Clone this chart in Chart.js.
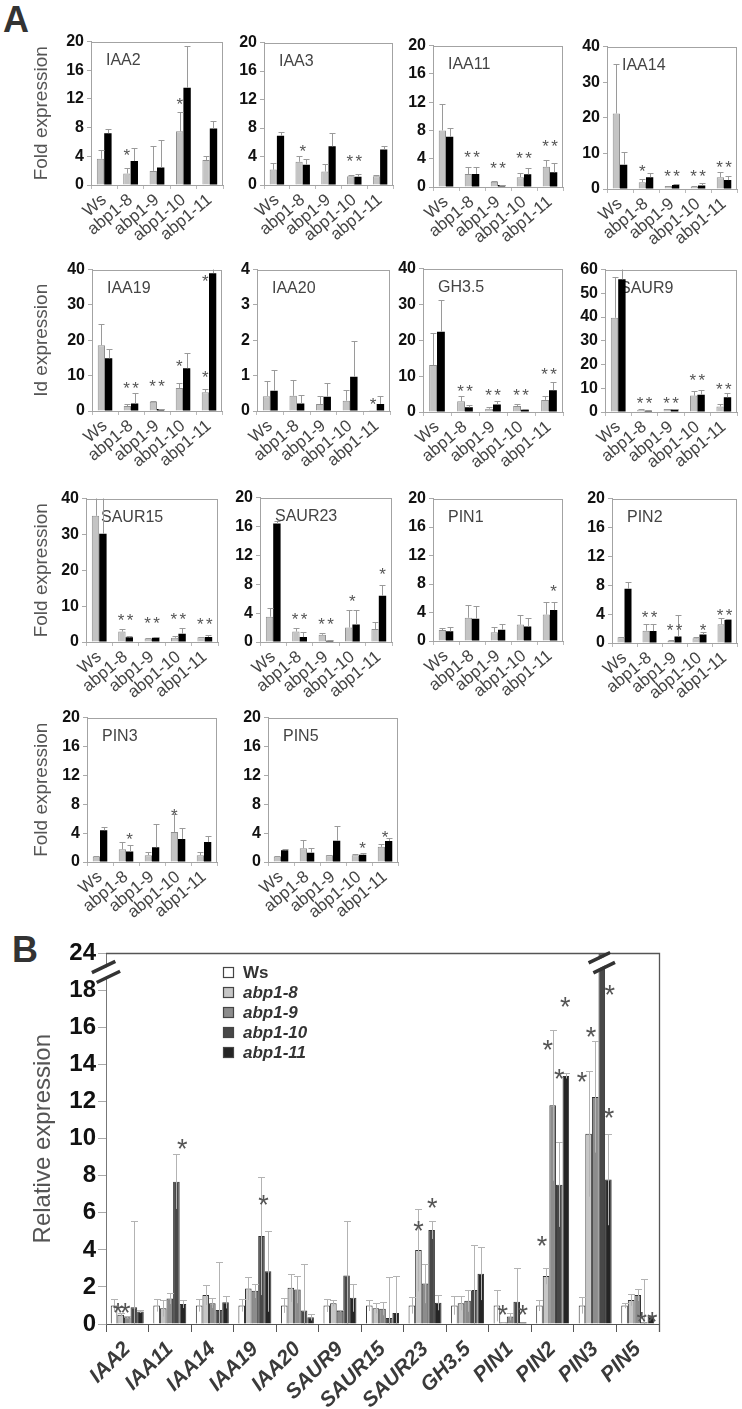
<!DOCTYPE html>
<html>
<head>
<meta charset="utf-8">
<script src="https://cdn.jsdelivr.net/npm/chart.js@4.4.1/dist/chart.umd.min.js"></script>
<style>
  body { margin: 0; background: #fff; width: 742px; height: 1409px; position: relative; overflow: hidden; }
  .letter { position: absolute; font-family: "Liberation Sans", Arial, sans-serif; font-weight: bold; font-size: 36px; line-height: 1; color: #333; }
</style>
</head>
<body>
<div class="letter" style="left:3px;top:2px">A</div>
<div class="letter" style="left:12px;top:932px">B</div>
<script>
// ---------- data: panel A (gray = first series, black = second series) ----------
const genotypes = ['Ws', 'abp1-8', 'abp1-9', 'abp1-10', 'abp1-11'];
const panelGenes = ['IAA2', 'IAA3', 'IAA11', 'IAA14', 'IAA19', 'IAA20', 'GH3.5', 'SAUR9',
                    'SAUR15', 'SAUR23', 'PIN1', 'PIN2', 'PIN3', 'PIN5'];
const panelYMax = [20, 20, 20, 40, 40, 4, 40, 60, 40, 20, 20, 20, 20, 20];
const panelYStep = [4, 4, 4, 10, 10, 1, 10, 10, 10, 4, 4, 4, 4, 4];

const grayVals = [
  [3.66, 1.6, 1.97, 7.5, 3.48],
  [2.16, 3.26, 1.9, 1.24, 1.24],
  [8.0, 1.84, 0.74, 1.38, 2.86],
  [21.2, 1.93, 0.83, 0.64, 3.3],
  [18.6, 1.4, 2.6, 6.5, 5.3],
  [0.42, 0.43, 0.2, 0.29, 0.03],
  [13.1, 3.0, 0.9, 1.64, 3.37],
  [39.7, 0.96, 1.24, 6.9, 2.33],
  [35.2, 2.9, 1.0, 1.2, 1.3],
  [3.5, 1.44, 1.0, 2.0, 1.8],
  [1.54, 3.26, 1.22, 2.3, 3.71],
  [0.8, 1.7, 0.3, 0.67, 2.6],
  [0.77, 1.76, 0.95, 4.16, 0.95],
  [0.77, 1.9, 0.95, 0.95, 2.1]
];
const grayErr = [
  [1.24, 0.8, 3.53, 2.7, 0.5],
  [0.94, 0.84, 1.0, 0.16, 0.2],
  [3.75, 1.02, 0.13, 0.62, 1.01],
  [14.0, 0.92, 0.1, 0.1, 1.6],
  [5.9, 0.7, 0.2, 1.5, 0.8],
  [0.43, 0.45, 0.22, 0.29, 0],
  [8.8, 1.6, 0.6, 0.66, 1.13],
  [17.1, 0.44, 0.2, 2.0, 0.97],
  [8, 0.8, 0.1, 0.5, 0.1],
  [1.2, 0.56, 0.26, 2.4, 1.0],
  [0.22, 1.81, 0.68, 1.4, 1.81],
  [0.05, 1.0, 0.05, 0.1, 0.8],
  [0.05, 1.04, 0.41, 2.49, 0.5],
  [0.09, 1.2, 0.05, 0.18, 0.34]
];
const blackVals = [
  [7.23, 3.34, 2.43, 13.55, 7.87],
  [6.9, 2.85, 5.43, 1.15, 5.0],
  [7.1, 1.84, 0.28, 1.8, 2.07],
  [6.8, 3.3, 1.1, 1.0, 2.5],
  [14.9, 2.1, 0.55, 12.1, 39.0],
  [0.57, 0.21, 0.4, 0.97, 0.2],
  [22.4, 1.3, 2.1, 0.64, 6.1],
  [55.9, 0.55, 1.1, 7.3, 6.2],
  [30.2, 1.3, 1.2, 2.3, 1.4],
  [16.4, 0.68, 0.18, 2.43, 6.4],
  [1.36, 3.12, 1.58, 2.04, 4.34],
  [7.5, 1.65, 0.9, 1.16, 3.2],
  [4.4, 1.45, 2.04, 3.17, 2.76],
  [1.63, 1.27, 2.94, 1.0, 2.9]
];
const blackErr = [
  [0.55, 1.83, 3.87, 5.9, 1.1],
  [0.55, 0.83, 1.87, 0.45, 0.5],
  [1.3, 1.02, 0.05, 0.9, 1.39],
  [3.6, 1.3, 0.2, 0.75, 1.2],
  [2.7, 3.1, 0.1, 4.3, 1.6],
  [0.59, 0.24, 0.4, 1.01, 0.22],
  [8.8, 0.7, 1.0, 0.26, 2.3],
  [5.1, 0.1, 0.1, 2.0, 1.6],
  [12, 0.4, 0.1, 1.6, 0.6],
  [0.4, 0.67, 0.05, 1.97, 1.5],
  [0.54, 1.81, 0.77, 1.13, 1.13],
  [1.0, 1.05, 3.0, 0.34, 0.1],
  [0.5, 0.9, 3.16, 1.58, 0.81],
  [0.23, 0.63, 1.99, 0.22, 0.36]
];
// significance marks: [genotype index, over (-1 gray, 0 both, 1 black), y value, text]
const panelStars = [
  [[1, -1, 4.7, '*'], [3, -1, 11.8, '*']],
  [[1, 0, 5.3, '*'], [3, 0, 3.9, '**']],
  [[1, 0, 4.8, '**'], [2, 0, 3.2, '**'], [3, 0, 4.6, '**'], [4, 0, 6.4, '**']],
  [[1, -1, 6.3, '*'], [2, 0, 4.9, '**'], [3, 0, 4.9, '**'], [4, 0, 7.4, '**']],
  [[1, 0, 7.7, '**'], [2, 0, 8.1, '**'], [3, -1, 13.9, '*'], [4, -1, 10.7, '*'], [4, -1, 37.9, '*']],
  [[4, -1, 0.3, '*']],
  [[1, 0, 7.0, '**'], [2, 0, 5.8, '**'], [3, 0, 5.8, '**'], [4, 0, 11.6, '**']],
  [[1, 0, 5.5, '**'], [2, 0, 5.5, '**'], [3, 0, 15.1, '**'], [4, 0, 11.5, '**']],
  [[1, 0, 7.3, '**'], [2, 0, 6.4, '**'], [3, 0, 7.5, '**'], [4, 0, 6.0, '**']],
  [[1, 0, 3.8, '**'], [2, 0, 3.1, '**'], [3, 0, 6.2, '*'], [4, 1, 9.9, '*']],
  [[4, 1, 7.6, '*']],
  [[1, 0, 4.2, '**'], [2, 0, 2.3, '**'], [3, 1, 2.4, '*'], [4, 0, 4.4, '**']],
  [[1, 1, 3.7, '*'], [3, -1, 7.0, '*']],
  [[3, 1, 2.5, '*'], [4, 0, 4.0, '*']]
];

// ---------- data: panel B ----------
const bGenes = ['IAA2', 'IAA11', 'IAA14', 'IAA19', 'IAA20', 'SAUR9', 'SAUR15', 'SAUR23',
                'GH3.5', 'PIN1', 'PIN2', 'PIN3', 'PIN5'];
const bSeries = ['Ws', 'abp1-8', 'abp1-9', 'abp1-10', 'abp1-11'];
const wsVals    = [1, 1, 1, 1, 1, 1, 1, 1, 1, 1, 1, 1, 1];
const wsErr     = [0.33, 0.33, 0.33, 0.33, 0.4, 0.35, 0.3, 0.44, 0.5, 0.86, 0.3, 0.44, 0.15];
const abp18Vals = [0.5, 0.85, 1.56, 1.91, 1.95, 1.12, 0.85, 3.99, 1.12, 0.1, 2.59, 10.27, 1.29];
const abp18Err  = [0.1, 0.45, 0.53, 0.62, 0.76, 0.17, 0.27, 2.23, 0.38, 0, 0.44, 3.4, 0.31];
const abp19Vals = [0.37, 1.38, 1.12, 1.79, 1.86, 0.71, 0.82, 2.18, 1.26, 0.41, 11.8, 12.25, 1.56];
const abp19Err  = [0.05, 0.3, 0.26, 0.39, 0.74, 0.05, 0.35, 1.06, 0.6, 0.21, 4.07, 3.0, 0.32];
const abp110Vals = [0.9, 7.68, 0.76, 4.75, 0.73, 2.62, 0.32, 5.07, 1.84, 1.2, 7.52, 24, 0.1];
const abp110Err  = [4.65, 1.47, 2.57, 3.19, 2.51, 2.93, 2.22, 0.48, 2.42, 1.83, 2.28, 0, 2.35];
const abp111Vals = [0.67, 1.08, 1.17, 2.84, 0.37, 1.42, 0.59, 1.15, 2.71, 0.1, 13.39, 7.8, 0.41];
const abp111Err  = [0.08, 0.22, 0.33, 2.18, 0.18, 0.76, 1.98, 0.41, 1.42, 0, 0.14, 2.47, 0.09];
const bYTicks = [0, 2, 4, 6, 8, 10, 12, 14, 16, 18, 24];
// [gene index, position in bar slots (0 = Ws ... 4 = abp1-11), y value]
const bStars = [
  [0, 0.6, 0.95], [0, 1.7, 0.95], [1, 3.9, 9.8], [3, 3.3, 6.8],
  [7, 1.0, 5.4], [7, 3.1, 6.65], [9, 0.9, 0.85], [9, 3.9, 0.85],
  [10, 0.4, 4.57], [10, 1.25, 15.16], [10, 3.0, 13.6], [10, 3.9, 17.46],
  [11, 0, 13.44], [11, 1.35, 15.87], [11, 4.2, 18.4], [11, 4.1, 11.5],
  [12, 2.6, 0.5], [12, 4.2, 0.5]
];

// ---------- layout ----------
const ff = '"Liberation Sans", Arial, Helvetica, sans-serif';
// plot-area boxes of the small panels: left, top, width, height
const panelBoxes = [
  [91, 39, 132, 146], [264, 40, 129, 145], [433, 43, 130, 144], [607, 44, 130, 145],
  [92, 267, 130, 144], [257, 267, 133, 144], [423, 266, 140, 146], [605, 267, 132, 145],
  [86, 496, 132, 146], [260, 495, 132, 147], [433, 496, 130, 145], [612, 496, 125, 147],
  [87, 715, 130, 147], [268, 715, 130, 147]
];
const yTitles = { 0: 'Fold expression', 4: 'Id expression', 8: 'Fold expression', 12: 'Fold expression' };

function addCanvas(left, top, w, h) {
  const c = document.createElement('canvas');
  c.width = w;
  c.height = h;
  c.style.cssText = `position:absolute;left:${left}px;top:${top}px;width:${w}px;height:${h}px`;
  document.body.appendChild(c);
  return c;
}

// error bars, drawn from each bar's own position
const errorBars = {
  id: 'errorBars',
  afterDatasetsDraw(chart, args, opts) {
    const { ctx, chartArea: ca } = chart;
    const y = chart.scales.y;
    ctx.save();
    ctx.beginPath();
    ctx.rect(ca.left, ca.top, ca.right - ca.left, ca.bottom - ca.top);
    ctx.clip();
    ctx.strokeStyle = opts.color;
    ctx.lineWidth = 1;
    chart.data.datasets.forEach((ds, di) => {
      const meta = chart.getDatasetMeta(di);
      meta.data.forEach((bar, i) => {
        const e = ds.errors[i];
        if (!e) return;
        const v = ds.data[i];
        const x = Math.round(bar.x) + 0.5;
        const yTop = Math.round(y.getPixelForValue(v + e)) + 0.5;
        const yBot = y.getPixelForValue(opts.both ? Math.max(0, v - e) : v);
        ctx.beginPath();
        ctx.moveTo(x, yBot);
        ctx.lineTo(x, yTop);
        ctx.moveTo(x - opts.cap, yTop);
        ctx.lineTo(x + opts.cap, yTop);
        ctx.stroke();
      });
    });
    ctx.restore();
  }
};

// frame + gene name for the small panels
const panelDeco = {
  id: 'panelDeco',
  beforeDatasetsDraw(chart, args, opts) {
    const { ctx, chartArea: ca } = chart;
    ctx.save();
    ctx.strokeStyle = '#a3a3a3';
    ctx.lineWidth = 1;
    ctx.strokeRect(Math.round(ca.left) + 0.5, Math.round(ca.top) + 0.5,
                   Math.round(ca.right - ca.left) - 1, Math.round(ca.bottom - ca.top));
    ctx.fillStyle = '#444';
    ctx.font = '16px ' + ff;
    ctx.textBaseline = 'alphabetic';
    ctx.fillText(opts.name, ca.left + 15, ca.top + 23);
    ctx.restore();
  }
};

// significance stars for the small panels
const panelStarMarks = {
  id: 'panelStarMarks',
  afterDraw(chart, args, opts) {
    const { ctx } = chart;
    const y = chart.scales.y;
    const g = chart.getDatasetMeta(0).data;
    const b = chart.getDatasetMeta(1).data;
    ctx.save();
    ctx.fillStyle = '#555';
    ctx.font = '17px ' + ff;
    ctx.textAlign = 'center';
    ctx.textBaseline = 'alphabetic';
    opts.list.forEach(([cat, over, val, txt]) => {
      const x = over < 0 ? g[cat].x : over > 0 ? b[cat].x : (g[cat].x + b[cat].x) / 2;
      const yy = y.getPixelForValue(val) + 0.585 * 17;
      if (txt === '**') {
        ctx.fillText('*', x - 4.5, yy);
        ctx.fillText('*', x + 4.5, yy);
      } else {
        ctx.fillText('*', x, yy);
      }
    });
    ctx.restore();
  }
};

function buildPanel(i) {
  const [pl, pt, pw, ph] = panelBoxes[i];
  const title = yTitles[i];
  const yw = title ? pl : 42;
  const xh = 66, padTop = 10, padRight = 6;
  const W = yw + pw + padRight, H = padTop + ph + xh;
  const canvas = addCanvas(pl - yw, pt - padTop, W, H);
  new Chart(canvas, {
    type: 'bar',
    data: {
      labels: genotypes,
      datasets: [
        { data: grayVals[i], errors: grayErr[i], backgroundColor: '#c4c4c4', borderColor: '#8f8f8f', borderWidth: 1 },
        { data: blackVals[i], errors: blackErr[i], backgroundColor: '#000', borderColor: '#000', borderWidth: 0 }
      ]
    },
    options: {
      responsive: false,
      animation: false,
      layout: { padding: { top: padTop, right: padRight, left: 0, bottom: 0 } },
      datasets: { bar: { categoryPercentage: 0.56, barPercentage: 1 } },
      scales: {
        x: {
          afterFit(s) { s.height = xh; },
          grid: { drawOnChartArea: false, tickLength: 4, color: '#bbb', offset: true },
          border: { color: '#a3a3a3' },
          ticks: { autoSkip: false, maxRotation: 40, minRotation: 40, padding: 1,
                   font: { family: ff, size: 17 }, color: '#444' }
        },
        y: {
          min: 0,
          max: panelYMax[i],
          afterFit(s) { s.width = yw; },
          grid: { drawOnChartArea: false, tickLength: 4, color: '#aaa' },
          border: { color: '#a3a3a3' },
          ticks: { stepSize: panelYStep[i], autoSkip: false, padding: 3,
                   font: { family: ff, size: 16, weight: 'bold' }, color: '#111' },
          title: {
            display: !!title,
            text: title || '',
            color: '#555',
            font: { family: ff, size: 19 },
            padding: { top: 30 }
          }
        }
      },
      plugins: {
        legend: { display: false },
        tooltip: { enabled: false },
        errorBars: { color: '#9a9a9a', cap: 3, both: false },
        panelDeco: { name: panelGenes[i] },
        panelStarMarks: { list: panelStars[i] }
      }
    },
    plugins: [errorBars, panelDeco, panelStarMarks]
  });
}

panelGenes.forEach((g, i) => buildPanel(i));

// ---------- panel B ----------
// values above 18 are drawn on the compressed part of the broken axis (18..24 -> 18..20)
const brokenAxis = v => (v <= 18 ? v : 18 + (v - 18) / 3);

const bValues = [wsVals, abp18Vals, abp19Vals, abp110Vals, abp111Vals];
const bErrors = [wsErr, abp18Err, abp19Err, abp110Err, abp111Err];
const bColors = ['#ffffff', '#c6c6c6', '#8c8c8c', '#484848', '#252525'];

const bFrame = {
  id: 'bFrame',
  afterDraw(chart) {
    const { ctx, chartArea: ca } = chart;
    ctx.save();
    ctx.strokeStyle = '#555';
    ctx.lineWidth = 1.3;
    ctx.beginPath();
    ctx.moveTo(ca.left, Math.round(ca.top) + 0.5);
    ctx.lineTo(Math.round(ca.right) + 0.5, Math.round(ca.top) + 0.5);
    ctx.lineTo(Math.round(ca.right) + 0.5, ca.bottom + 8);
    ctx.stroke();
    ctx.restore();
  }
};

const bStarMarks = {
  id: 'bStarMarks',
  afterDraw(chart, args, opts) {
    const { ctx } = chart;
    const y = chart.scales.y;
    const m0 = chart.getDatasetMeta(0).data;
    const m1 = chart.getDatasetMeta(1).data;
    ctx.save();
    ctx.fillStyle = '#555';
    ctx.font = '27px ' + ff;
    ctx.textAlign = 'center';
    ctx.textBaseline = 'alphabetic';
    opts.list.forEach(([cat, slot, val]) => {
      const x = m0[cat].x + slot * (m1[cat].x - m0[cat].x);
      ctx.fillText('*', x, y.getPixelForValue(brokenAxis(val)) + 0.585 * 27);
    });
    ctx.restore();
  }
};

const axisBreaks = {
  id: 'axisBreaks',
  afterDraw(chart, args, opts) {
    const { ctx, chartArea: ca } = chart;
    const y = chart.scales.y;
    const drawBreak = (x, yy, len) => {
      ctx.save();
      ctx.translate(x, yy);
      ctx.rotate(-0.45);
      ctx.fillStyle = '#fff';
      ctx.fillRect(-len / 2, -4, len, 8);
      ctx.strokeStyle = '#333';
      ctx.lineWidth = 3.5;
      ctx.beginPath();
      ctx.moveTo(-len / 2, -5.5); ctx.lineTo(len / 2, -5.5);
      ctx.moveTo(-len / 2, 5.5); ctx.lineTo(len / 2, 5.5);
      ctx.stroke();
      ctx.restore();
    };
    drawBreak(ca.left, y.getPixelForValue(19), 26);
    const bar = chart.getDatasetMeta(opts.dataset).data[opts.index];
    drawBreak(bar.x, y.getPixelForValue(19.5), 24);
  }
};

const insideLegend = {
  id: 'insideLegend',
  afterDraw(chart) {
    const { ctx, chartArea: ca } = chart;
    ctx.save();
    chart.data.datasets.forEach((ds, i) => {
      const cy = ca.top + 19 + i * 20;
      const bx = Math.round(ca.left + 117);
      ctx.fillStyle = ds.backgroundColor;
      ctx.fillRect(bx, Math.round(cy - 5.5), 11, 11);
      ctx.strokeStyle = '#444';
      ctx.lineWidth = 1.2;
      ctx.strokeRect(bx + 0.5, Math.round(cy - 5.5) + 0.5, 10, 10);
      ctx.fillStyle = '#333';
      ctx.font = (i === 0 ? '' : 'italic ') + 'bold 17px ' + ff;
      ctx.textBaseline = 'middle';
      ctx.fillText(ds.label, bx + 20, cy + 1);
    });
    ctx.restore();
  }
};

(function buildB() {
  const pl = 106, pt = 949, pw = 553, ph = 375;
  const yw = pl, xh = 86, padTop = 12, padRight = 12;
  const canvas = addCanvas(0, pt - padTop, yw + pw + padRight, padTop + ph + xh);
  new Chart(canvas, {
    type: 'bar',
    data: {
      labels: bGenes,
      datasets: bSeries.map((name, k) => ({
        label: name,
        data: bValues[k].map(brokenAxis),
        errors: bErrors[k],
        backgroundColor: bColors[k],
        borderColor: '#333',
        borderWidth: 1
      }))
    },
    options: {
      responsive: false,
      animation: false,
      layout: { padding: { top: padTop, right: padRight, left: 0, bottom: 0 } },
      datasets: { bar: { categoryPercentage: 0.775, barPercentage: 1 } },
      scales: {
        x: {
          afterFit(s) { s.height = xh; },
          grid: { drawOnChartArea: false, tickLength: 8, color: '#555', offset: true },
          border: { color: '#555' },
          ticks: { autoSkip: false, maxRotation: 45, minRotation: 45, padding: 5,
                   font: { family: ff, size: 21, weight: 'bold', style: 'italic' }, color: '#3a3a3a' }
        },
        y: {
          min: 0,
          max: 20,
          afterFit(s) { s.width = yw; },
          afterBuildTicks(s) { s.ticks = bYTicks.map(v => ({ value: brokenAxis(v), label: String(v) })); },
          grid: { drawOnChartArea: false, tickLength: 8, color: '#aaa' },
          border: { color: '#777' },
          ticks: { autoSkip: false, padding: 2, callback: (v, idx) => String(bYTicks[idx]),
                   font: { family: ff, size: 24, weight: 'bold' }, color: '#111' },
          title: {
            display: true,
            text: 'Relative expression',
            color: '#555',
            font: { family: ff, size: 24 },
            padding: { top: 29 }
          }
        }
      },
      plugins: {
        legend: { display: false },
        tooltip: { enabled: false },
        errorBars: { color: '#b3b3b3', cap: 3.5, both: true },
        bStarMarks: { list: bStars },
        axisBreaks: { dataset: 3, index: 11 }
      }
    },
    plugins: [errorBars, bFrame, bStarMarks, axisBreaks, insideLegend]
  });
})();
</script>
</body>
</html>
